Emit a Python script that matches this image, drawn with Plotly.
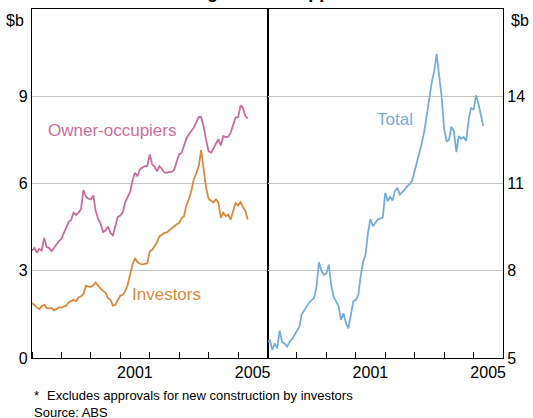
import pandas as pd
import plotly.graph_objects as go

# monthly, Jan 1998 - May 2005 ($b)
months = pd.date_range("1998-01-01", periods=89, freq="MS")

owner_occupiers = [
    3.70, 3.78, 3.62, 3.75, 3.70, 4.13, 3.82, 3.78, 3.67, 3.80, 3.92, 4.02,
    4.10, 4.30, 4.45, 4.68, 4.75, 5.00, 4.92, 5.00, 5.12, 5.77, 5.55, 5.48,
    5.45, 5.60, 5.05, 4.78, 4.62, 4.33, 4.38, 4.52, 4.30, 4.22, 4.55, 4.85,
    4.90, 5.02, 5.35, 5.55, 5.70, 6.10, 6.37, 6.25, 6.48, 6.55, 6.60, 6.60,
    7.00, 6.65, 6.58, 6.42, 6.60, 6.50, 6.38, 6.37, 6.40, 6.40, 6.48, 6.75,
    7.00, 7.06, 7.30, 7.55, 7.69, 7.80, 7.92, 8.10, 8.29, 8.28, 7.95, 7.50,
    7.11, 7.06, 7.20, 7.34, 7.52, 7.31, 7.63, 7.60, 7.61, 7.75, 8.05, 8.27,
    8.28, 8.69, 8.61, 8.32, 8.23,
]

investors = [
    1.89, 1.80, 1.74, 1.68, 1.78, 1.83, 1.72, 1.70, 1.72, 1.64, 1.70, 1.74,
    1.73, 1.77, 1.80, 1.92, 1.95, 2.00, 1.96, 2.08, 2.12, 2.20, 2.48, 2.46,
    2.44, 2.50, 2.60, 2.48, 2.38, 2.30, 2.25, 2.06, 2.00, 1.80, 1.83, 2.00,
    2.15, 2.17, 2.30, 2.50, 2.86, 3.21, 3.44, 3.30, 3.24, 3.22, 3.24, 3.26,
    3.67, 3.72, 3.84, 3.98, 4.18, 4.25, 4.30, 4.32, 4.40, 4.47, 4.53, 4.60,
    4.64, 4.80, 4.87, 5.25, 5.45, 5.75, 6.14, 6.35, 6.60, 7.15, 6.55, 5.85,
    5.48, 5.40, 5.35, 5.45, 5.35, 4.82, 4.99, 4.87, 4.93, 4.76, 5.10, 5.33,
    5.24, 5.36, 5.20, 5.06, 4.76,
]

total = [
    5.56, 5.60, 5.28, 5.50, 5.33, 5.94, 5.55, 5.50, 5.39, 5.55, 5.65, 5.79,
    5.90, 6.08, 6.50, 6.65, 6.75, 6.90, 6.98, 7.06, 7.45, 8.29, 8.00, 7.86,
    7.90, 8.21, 7.50, 7.10, 6.95, 6.77, 6.31, 6.54, 6.20, 6.02, 6.50, 6.94,
    7.00, 7.17, 7.80, 8.30, 8.55, 9.30, 9.78, 9.53, 9.65, 9.76, 9.80, 9.82,
    10.68, 10.39, 10.54, 10.42, 10.73, 10.85, 10.62, 10.70, 10.80, 10.91, 10.97, 11.10,
    11.42, 11.75, 12.05, 12.40, 12.80, 13.40, 14.05, 14.47, 14.87, 15.45, 14.70, 14.00,
    12.90, 12.45, 12.50, 12.95, 12.80, 12.08, 12.63, 12.54, 12.60, 12.46, 13.20, 13.61,
    13.53, 14.03, 13.75, 13.35, 12.98,
]

left_ticks = [0, 3, 6, 9]
right_ticks = [5, 8, 11, 14]
year_labels = ["2001", "2005"]

PINK = "#CC6C9E"
ORANGE = "#D98A3D"
BLUE = "#74ADDD"
FONT = "Liberation Sans, Arial, sans-serif"

fig = go.Figure()
fig.add_trace(go.Scatter(x=months, y=owner_occupiers, mode="lines",
                         line=dict(color=PINK, width=1.8), xaxis="x", yaxis="y"))
fig.add_trace(go.Scatter(x=months, y=investors, mode="lines",
                         line=dict(color=ORANGE, width=1.8), xaxis="x", yaxis="y"))
fig.add_trace(go.Scatter(x=months, y=total, mode="lines",
                         line=dict(color=BLUE, width=1.8), xaxis="x2", yaxis="y2"))

xcommon = dict(
    type="date", range=["1998-01-01", "2006-01-01"],
    tickvals=[y + "-07-01" for y in year_labels], ticktext=year_labels,
    ticks="", showgrid=False, showline=True, linecolor="black", linewidth=1.2,
    mirror=True, tickfont=dict(size=16, color="black"),
    minor=dict(ticks="inside", ticklen=6, tickcolor="black", dtick="M12",
               tick0="1998-01-01", showgrid=False),
)
fig.update_layout(
    xaxis=dict(domain=[0, 0.5], anchor="y", **xcommon),
    xaxis2=dict(domain=[0.5, 1], anchor="y2", **xcommon),
    yaxis=dict(range=[0, 12], tickvals=left_ticks, anchor="x", side="left",
               showgrid=True, gridcolor="#C4C4C4", gridwidth=1, zeroline=False,
               showline=True, linecolor="black", linewidth=1.2, mirror=True,
               ticks="", tickfont=dict(size=16, color="black")),
    yaxis2=dict(range=[5, 17], tickvals=right_ticks, anchor="x2", side="right",
                showgrid=True, gridcolor="#C4C4C4", gridwidth=1, zeroline=False,
                showline=True, linecolor="black", linewidth=1.2, mirror=True,
                ticks="", tickfont=dict(size=16, color="black")),
)

fig.update_layout(annotations=[
    dict(text="Owner-occupiers", x="2000-10-01", y=7.83, xref="x", yref="y",
         font=dict(size=17, color=PINK), showarrow=False),
    dict(text="Investors", x="2002-08-01", y=2.2, xref="x", yref="y",
         font=dict(size=17, color=ORANGE), showarrow=False),
    dict(text="Total", x="2002-05-01", y=13.2, xref="x2", yref="y2",
         font=dict(size=17, color=BLUE), showarrow=False),
    dict(text="$b", x=0, y=1, xref="paper", yref="paper", xanchor="right",
         yanchor="top", xshift=-6, yshift=-1, font=dict(size=16, color="black"),
         showarrow=False),
    dict(text="$b", x=1, y=1, xref="paper", yref="paper", xanchor="left",
         yanchor="top", xshift=6, yshift=-1, font=dict(size=16, color="black"),
         showarrow=False),
    # title sits above the top of the window, only descenders show
    dict(text="<b>Housing Finance Approvals*</b>", x=0.5, y=1, xref="paper",
         yref="paper", xanchor="center", yanchor="bottom", yshift=5,
         font=dict(size=18, color="black"), showarrow=False),
    dict(text="*", x=0, y=0, xref="paper", yref="paper", xanchor="left",
         yanchor="top", yshift=-28, font=dict(size=13, color="black"),
         showarrow=False),
    dict(text="Excludes approvals for new construction by investors", x=0, y=0,
         xref="paper", yref="paper", xanchor="left", yanchor="top", xshift=13,
         yshift=-28, font=dict(size=13, color="black"), showarrow=False),
    dict(text="Source: ABS", x=0, y=0, xref="paper", yref="paper", xanchor="left",
         yanchor="top", yshift=-45, font=dict(size=13, color="black"),
         showarrow=False),
])

fig.update_layout(
    showlegend=False,
    width=533, height=418,
    margin=dict(l=32, r=27, t=8, b=60),
    paper_bgcolor="white", plot_bgcolor="white",
    font=dict(family=FONT, color="black"),
)

fig.write_html("out.html", config={"displayModeBar": False},
               post_script="document.body.style.margin='0';")
